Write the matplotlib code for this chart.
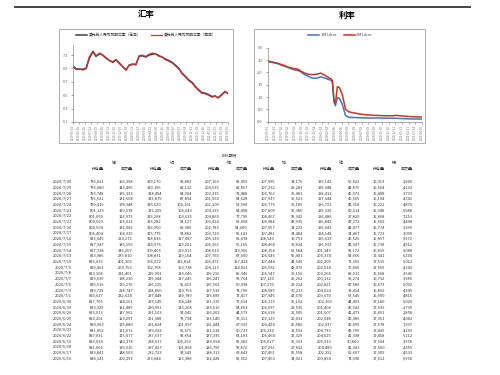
import matplotlib
matplotlib.use("Agg")
import matplotlib.pyplot as plt
import matplotlib.dates as mdates
from matplotlib.lines import Line2D
from matplotlib.patches import Rectangle
import pandas as pd

plt.rcParams['font.family'] = ['Noto Sans CJK SC', 'DejaVu Sans']

# ---- FX chart data (USD/CNY) ----
fx_dates = pd.date_range('2019-05-01', periods=48, freq='SMS')
fx_onshore = [6.93, 6.89, 6.89, 6.88, 6.90, 7.05, 7.15, 7.08, 7.12, 7.10,
              7.05, 7.02, 6.99, 7.03, 6.98, 6.93, 6.88, 6.95, 6.96, 6.96,
              7.08, 7.09, 7.07, 7.10, 7.11, 7.12, 7.09, 7.07, 7.04, 7.02,
              6.99, 6.95, 6.90, 6.83, 6.78, 6.73, 6.69, 6.63, 6.58, 6.54,
              6.53, 6.51, 6.48, 6.49, 6.46, 6.50, 6.55, 6.53]
fx_offshore = [6.94, 6.90, 6.89, 6.89, 6.91, 7.07, 7.16, 7.09, 7.13, 7.10,
               7.06, 7.02, 7.00, 7.03, 6.97, 6.93, 6.87, 6.95, 6.97, 6.95,
               7.09, 7.10, 7.08, 7.11, 7.13, 7.12, 7.08, 7.07, 7.03, 7.01,
               6.98, 6.94, 6.89, 6.82, 6.77, 6.72, 6.68, 6.62, 6.57, 6.53,
               6.52, 6.50, 6.47, 6.49, 6.46, 6.51, 6.56, 6.52]

# ---- Libor chart data ----
rate_dates = pd.to_datetime([
    '2019-05-01', '2019-05-16', '2019-06-01', '2019-06-16', '2019-07-01',
    '2019-07-16', '2019-08-01', '2019-08-16', '2019-09-01', '2019-09-16',
    '2019-10-01', '2019-10-16', '2019-11-01', '2019-11-16', '2019-12-01',
    '2019-12-16', '2020-01-01', '2020-01-16', '2020-02-01', '2020-02-10',
    '2020-02-18', '2020-02-24', '2020-03-02', '2020-03-09', '2020-03-18',
    '2020-03-28', '2020-04-10', '2020-04-25', '2020-05-10', '2020-06-01',
    '2020-07-01', '2020-08-01', '2020-09-01', '2020-10-01', '2020-11-01',
    '2020-12-01', '2020-12-16', '2021-01-01', '2021-02-01', '2021-03-01',
    '2021-04-15'])
libor_1m = [2.43, 2.41, 2.38, 2.35, 2.30, 2.25, 2.20, 2.15, 2.10, 2.08,
            2.02, 1.92, 1.85, 1.79, 1.76, 1.77, 1.82, 1.78, 1.73, 1.70,
            1.68, 1.60, 0.80, 0.65, 0.98, 0.95, 0.70, 0.25, 0.18, 0.17,
            0.16, 0.15, 0.15, 0.15, 0.14, 0.14, 0.14, 0.13, 0.12, 0.11,
            0.11]
libor_3m = [2.46, 2.43, 2.40, 2.37, 2.32, 2.28, 2.22, 2.18, 2.15, 2.13,
            2.05, 1.98, 1.93, 1.91, 1.91, 1.93, 1.97, 1.90, 1.82, 1.77,
            1.74, 1.66, 0.90, 0.75, 1.42, 1.38, 1.10, 0.50, 0.40, 0.36,
            0.31, 0.28, 0.26, 0.25, 0.24, 0.24, 0.26, 0.24, 0.22, 0.20,
            0.19]

# ---- LME table data ----
table_title = 'LME期货'
metals = ['铝', '铜', '锌', '铅', '镍', '锡']
col_kinds = ['持仓量', '成交量']
dates = ['2020/7/30', '2020/7/29', '2020/7/28', '2020/7/27', '2020/7/24',
         '2020/7/23', '2020/7/22', '2020/7/21', '2020/7/20', '2020/7/17',
         '2020/7/16', '2020/7/15', '2020/7/14', '2020/7/13', '2020/7/10',
         '2020/7/9', '2020/7/8', '2020/7/7', '2020/7/6', '2020/7/3',
         '2020/7/1', '2020/6/30', '2020/6/29', '2020/6/26', '2020/6/25',
         '2020/6/24', '2020/6/23', '2020/6/22', '2020/6/19', '2020/6/18',
         '2020/6/17', '2020/6/16']
al_oi = [786821, 786680, 793748, 795521, 790419, 801129, 801050, 800023,
         800564, 806404, 815649, 817347, 827728, 823986, 825033, 819463,
         813108, 815639, 819616, 819728, 820627, 817705, 823929, 823013,
         820201, 820963, 831852, 827031, 830030, 831066, 833841, 838141]
al_vol = [166358, 143496, 135333, 131608, 178348, 189578, 126973, 165011,
          131082, 164335, 220272, 185156, 346207, 285810, 401302, 260753,
          221401, 198230, 179276, 218747, 232024, 184161, 181489, 187962,
          123297, 115880, 111672, 115077, 140378, 139316, 148503, 202293]
cu_oi = [319170, 320196, 318494, 315879, 316620, 316299, 316268, 316282,
         316950, 315775, 318836, 314076, 309406, 308831, 306072, 302768,
         299093, 295944, 296125, 298860, 297448, 293145, 290991, 291103,
         291988, 291824, 289332, 287637, 288637, 287427, 282723, 283044]
cu_vol = [93882, 81132, 84904, 87854, 100161, 106643, 103635, 94127,
          89380, 94882, 117087, 129202, 229011, 129154, 311814, 153738,
          136646, 117245, 95413, 110756, 130789, 174148, 116208, 94042,
          78734, 101097, 99371, 93854, 100253, 101894, 93543, 123388]
zn_oi = [207163, 204535, 203335, 201560, 202109, 204335, 204860, 203424,
         202783, 203720, 205130, 206363, 208010, 207765, 206471, 204113,
         199216, 196247, 195562, 197519, 193899, 191315, 193516, 193262,
         193140, 192444, 191138, 187336, 180094, 186799, 188313, 192428]
zn_vol = [88459, 81857, 72488, 54628, 53990, 54458, 77799, 68068,
          54000, 55141, 62078, 56165, 119956, 87600, 157424, 114821,
          85346, 58754, 50098, 74796, 73417, 72614, 54853, 44573,
          33311, 67933, 60727, 63103, 58383, 59872, 63843, 92352]
pb_oi = [107995, 107232, 106762, 107937, 106776, 107809, 108467, 106984,
         107957, 107481, 108540, 108464, 108154, 106546, 107444, 106592,
         106947, 107120, 107270, 108585, 107946, 106115, 106597, 106618,
         107129, 106424, 106230, 106464, 106027, 107292, 107461, 107463]
pb_vol = [34176, 28283, 35481, 35521, 36185, 35380, 59342, 43935,
          34232, 34484, 36753, 39824, 52584, 55401, 44546, 48479,
          36156, 26262, 23214, 30213, 41670, 35192, 23535, 22505,
          26031, 26580, 32533, 31329, 35333, 27832, 55558, 34021]
ni_oi = [199142, 199348, 198412, 197644, 196721, 199336, 196486, 196842,
         195643, 194148, 196633, 196931, 201143, 200374, 202209, 202514,
         203268, 203132, 202821, 204024, 203670, 202169, 201406, 201607,
         202048, 202937, 204733, 204525, 205313, 204489, 202292, 203854]
ni_vol = [56822, 44876, 45973, 46565, 49318, 60614, 37820, 47272,
          44477, 34467, 46526, 49347, 91172, 54666, 72356, 76895,
          88012, 39274, 47589, 38414, 53545, 44403, 46542, 42473,
          46386, 46095, 49769, 41338, 30800, 42341, 61607, 74938]
sn_oi = [16913, 16564, 16408, 16194, 16221, 15948, 15868, 15603,
         15774, 15723, 15857, 15738, 16816, 17341, 17515, 17555,
         16668, 16732, 16873, 16852, 16900, 17180, 17039, 16891,
         17351, 17578, 17435, 17458, 17564, 17600, 17309, 17612]
sn_vol = [2940, 4132, 3733, 4741, 4870, 6988, 7253, 4408,
          3396, 3099, 3972, 4912, 6088, 6200, 5012, 4343,
          3546, 3986, 5092, 4349, 4815, 6020, 2739, 2858,
          4082, 7397, 4299, 5112, 3978, 4355, 4533, 6960]
table_cols = [al_oi, al_vol, cu_oi, cu_vol, zn_oi, zn_vol,
              pb_oi, pb_vol, ni_oi, ni_vol, sn_oi, sn_vol]

W, H = 500, 375


def fxp(x):
    return x / W


def fyp(y):
    return 1 - y / H


fig = plt.figure(figsize=(5, 3.75), dpi=100)
fig.patch.set_facecolor('white')

# top rule
fig.add_artist(Line2D([fxp(15), fxp(470)], [fyp(7), fyp(7)], color='#444444', linewidth=1.4))
fig.text(fxp(146), fyp(15), '汇率', fontsize=6, fontweight='bold', ha='center', va='center')
fig.text(fxp(347), fyp(15), '利率', fontsize=6, fontweight='bold', ha='center', va='center')

# chart frames
for x0, x1 in [(59, 233), (254, 425)]:
    fig.add_artist(Rectangle((fxp(x0), fyp(143)), fxp(x1 - x0), (143 - 29) / H,
                             fill=False, edgecolor='#a0a0a0', linewidth=0.6))


def style_axis(ax):
    for s in ['top', 'right']:
        ax.spines[s].set_visible(False)
    for s in ['left', 'bottom']:
        ax.spines[s].set_color('#8c8c8c')
        ax.spines[s].set_linewidth(0.5)
    ax.tick_params(axis='y', labelsize=2.8, colors='#555555', length=1.2, width=0.4, pad=2.5)
    ax.tick_params(axis='x', labelsize=2.1, colors='#666666', length=1.2, width=0.4,
                   pad=1, rotation=90)
    ax.xaxis.set_major_formatter(mdates.DateFormatter('%Y-%m-%d'))


# FX chart
ax1 = fig.add_axes([fxp(73), fyp(122), fxp(228 - 73), (122 - 45) / H])
ax1.plot(fx_dates, fx_onshore, color='#3b3b5c', linewidth=1.1, label='美元兑人民币即期汇率（在岸）')
ax1.plot(fx_dates, fx_offshore, color='#c0392b', linewidth=0.9, label='美元兑人民币即期汇率（离岸）')
ax1.set_ylim(6.1, 7.25)
ax1.set_yticks([6.1, 6.3, 6.5, 6.7, 6.9, 7.1])
ax1.set_xlim(fx_dates[0], fx_dates[-1])
ax1.set_xticks(pd.date_range(fx_dates[0], fx_dates[-1], periods=27))
style_axis(ax1)
ax1.legend(loc='center', bbox_to_anchor=(fxp(146), fyp(35)), bbox_transform=fig.transFigure,
           ncol=2, frameon=False, fontsize=2.7, handlelength=3, handletextpad=0.4,
           columnspacing=2.5, labelcolor='#333333')

# Libor chart
ax2 = fig.add_axes([fxp(268), fyp(121.7), fxp(422 - 268), (121.7 - 47.7) / H])
ax2.plot(rate_dates, libor_1m, color='#4472c4', linewidth=1.1, label='1M Libor')
ax2.plot(rate_dates, libor_3m, color='#c0392b', linewidth=1.1, label='3M Libor')
ax2.set_ylim(0, 3.0)
ax2.set_yticks([0.0, 0.5, 1.0, 1.5, 2.0, 2.5, 3.0])
ax2.yaxis.set_major_formatter(plt.FormatStrFormatter('%.1f'))
ax2.set_xlim(rate_dates[0], rate_dates[-1])
ax2.set_xticks(pd.date_range(rate_dates[0], rate_dates[-1], periods=24))
style_axis(ax2)
ax2.legend(loc='center', bbox_to_anchor=(fxp(340), fyp(35)), bbox_transform=fig.transFigure,
           ncol=2, frameon=False, fontsize=2.7, handlelength=3, handletextpad=0.4,
           columnspacing=2.0, labelcolor='#333333')

# LME table
col_right = [104, 133, 162, 192, 220, 248, 275, 303, 332, 360, 385, 413]
tfs = 2.9
tcolor = '#333333'
fig.text(fxp(230), fyp(155), table_title, fontsize=tfs, ha='center', va='center', color=tcolor)
for i, m in enumerate(metals):
    cx = (col_right[2 * i] + col_right[2 * i + 1]) / 2 - 5
    fig.text(fxp(cx), fyp(163), m, fontsize=tfs, ha='center', va='center', color=tcolor)
for j, xr in enumerate(col_right):
    fig.text(fxp(xr), fyp(169.5), col_kinds[j % 2], fontsize=tfs, ha='right', va='center', color=tcolor)

row_y0, row_dy = 181.7, 5.7
for r, d in enumerate(dates):
    y = fyp(row_y0 + r * row_dy)
    fig.text(fxp(72), y, d, fontsize=tfs, ha='right', va='center', color=tcolor)
    for j, col in enumerate(table_cols):
        fig.text(fxp(col_right[j]), y, f'{col[r]:,}', fontsize=tfs, ha='right', va='center',
                 color=tcolor)

fig.savefig('out.png', dpi=100, facecolor='white')
